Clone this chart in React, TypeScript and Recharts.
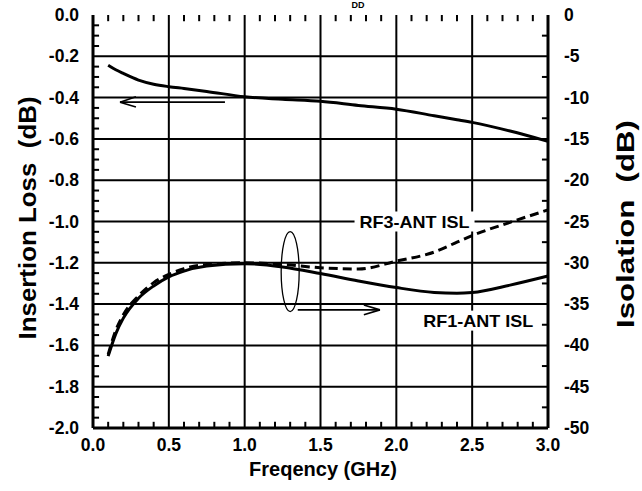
import { ComposedChart, Line, XAxis, YAxis, ReferenceLine, ReferenceDot } from "recharts";

const freq = [0.1, 0.15, 0.2, 0.3, 0.4, 0.5, 0.6, 0.75, 1.0, 1.25, 1.5, 1.75, 2.0, 2.25, 2.4, 2.5, 2.75, 3.0];
const insertionLoss = [-0.243, -0.265, -0.283, -0.315, -0.335, -0.347, -0.356, -0.37, -0.396, -0.408, -0.418, -0.438, -0.456, -0.488, -0.507, -0.52, -0.562, -0.612];
const rf1Isolation = [-41.3, -38.6, -36.7, -34.3, -32.8, -31.7, -31.0, -30.4, -30.1, -30.5, -31.3, -32.2, -33.0, -33.6, -33.7, -33.6, -32.7, -31.6];
const rf3Isolation = [-41.1, -38.2, -36.3, -34.0, -32.4, -31.4, -30.7, -30.2, -30.0, -30.2, -30.6, -30.75, -29.8, -28.7, -27.5, -26.7, -25.1, -23.6];

const freqTicks = [0, 0.5, 1.0, 1.5, 2.0, 2.5, 3.0];
const lossTicks = [0, -0.2, -0.4, -0.6, -0.8, -1.0, -1.2, -1.4, -1.6, -1.8, -2.0];
const isoTicks = [0, -5, -10, -15, -20, -25, -30, -35, -40, -45, -50];

const data = freq.map((f, i) => ({ f, il: insertionLoss[i], rf1: rf1Isolation[i], rf3: rf3Isolation[i] }));

// minor tick positions between the labelled ones
const steps = (from: number, to: number, step: number, skip: number) => {
  const out: number[] = [];
  const n = Math.round((to - from) / step);
  for (let i = 0; i <= n; i++) if (i % skip !== 0) out.push(+(from + i * step).toFixed(4));
  return out;
};
const freqMinor = steps(0, 3, 0.1, 5);
const lossMinor = steps(-2, 0, 0.05, 4);
const isoMinor = steps(-50, 0, 2.5, 2);

const FONT = "Arial, 'Liberation Sans', Helvetica, sans-serif";
const M = 6; // tickMargin used on every axis

function BottomTick(props: any) {
  const { x, y, payload } = props;
  return (
    <text x={x} y={y - M + 23} textAnchor="middle" fontFamily={FONT} fontWeight="bold" fontSize={17.5} fill="#000">
      {payload.value.toFixed(1)}
    </text>
  );
}

function LeftTick(props: any) {
  const { x, y, payload } = props;
  return (
    <text x={x + M - 14} y={y + 6} textAnchor="end" fontFamily={FONT} fontWeight="bold" fontSize={17.5} fill="#000">
      {payload.value.toFixed(1)}
    </text>
  );
}

function RightTick(props: any) {
  const { x, y, payload } = props;
  return (
    <text x={x - M + 16} y={y + 6} textAnchor="start" fontFamily={FONT} fontWeight="bold" fontSize={17.5} fill="#000">
      {payload.value}
    </text>
  );
}

const titleStyle = { fontFamily: FONT, fontWeight: "bold" as const, fill: "#000", whiteSpace: "pre" as const };

function BoxLabel(text: string) {
  return (p: any) => (
    <g>
      <rect x={p.cx - 60} y={p.cy - 10} width={120} height={20} fill="#fff" />
      <text
        x={p.cx}
        y={p.cy + 6}
        textAnchor="middle"
        fontFamily={FONT}
        fontWeight="bold"
        fontSize={17}
        fill="#000"
        textLength={110}
        lengthAdjust="spacingAndGlyphs"
      >
        {text}
      </text>
    </g>
  );
}

const seg = { stroke: "#000", strokeWidth: 1.6, xAxisId: "b", yAxisId: "il", ifOverflow: "visible" as const };
const tk = { stroke: "#000", strokeWidth: 2, xAxisId: "b", ifOverflow: "visible" as const };

export default function App() {
  return (
    <div style={{ width: 642, height: 491, background: "#fff" }}>
      <style>{"body{margin:0}"}</style>
      <ComposedChart width={642} height={491} data={data} margin={{ top: 15, right: 0, bottom: 0, left: 0 }}>
        <XAxis
          xAxisId="b"
          dataKey="f"
          type="number"
          domain={[0, 3]}
          ticks={freqTicks}
          interval={0}
          height={63}
          tickSize={0}
          tickMargin={M}
          tick={BottomTick}
          axisLine={{ stroke: "#000", strokeWidth: 3 }}
          label={() => (
            <g>
              <text x={323} y={476} textAnchor="middle" fontSize={20} style={titleStyle}>
                Freqency (GHz)
              </text>
              <text x={358} y={8} textAnchor="middle" fontSize={9} style={titleStyle}>
                DD
              </text>
            </g>
          )}
        />
        <XAxis
          xAxisId="t"
          orientation="top"
          dataKey="f"
          type="number"
          domain={[0, 3]}
          ticks={freqTicks}
          height={0}
          tickSize={0}
          tick={false}
          axisLine={{ stroke: "#000", strokeWidth: 3 }}
        />
        <YAxis
          yAxisId="il"
          orientation="left"
          type="number"
          domain={[-2, 0]}
          ticks={lossTicks}
          interval={0}
          width={93}
          tickSize={0}
          tickMargin={M}
          tick={LeftTick}
          axisLine={{ stroke: "#000", strokeWidth: 3 }}
          label={() => (
            <text
              x={28}
              y={218}
              transform="rotate(-90, 28, 218)"
              textAnchor="middle"
              dominantBaseline="central"
              fontSize={23}
              textLength={243}
              lengthAdjust="spacingAndGlyphs"
              style={titleStyle}
            >
              {"Insertion Loss  (dB)"}
            </text>
          )}
        />
        <YAxis
          yAxisId="iso"
          orientation="right"
          type="number"
          domain={[-50, 0]}
          ticks={isoTicks}
          interval={0}
          width={94}
          tickSize={0}
          tickMargin={M}
          tick={RightTick}
          axisLine={{ stroke: "#000", strokeWidth: 3 }}
          label={() => (
            <text
              x={626}
              y={224}
              transform="rotate(-90, 626, 224)"
              textAnchor="middle"
              dominantBaseline="central"
              fontSize={23}
              textLength={208}
              lengthAdjust="spacingAndGlyphs"
              style={titleStyle}
            >
              {"Isolation  (dB)"}
            </text>
          )}
        />

        {freqTicks.slice(1, -1).map((v) => (
          <ReferenceLine key={"vx" + v} x={v} xAxisId="b" yAxisId="il" stroke="#000" strokeWidth={2} />
        ))}
        {lossTicks.slice(1, -1).map((v) => (
          <ReferenceLine key={"hy" + v} y={v} xAxisId="b" yAxisId="il" stroke="#000" strokeWidth={2} />
        ))}

        {/* inward minor ticks */}
        {freqMinor.map((v) => (
          <ReferenceLine key={"bt" + v} {...tk} yAxisId="il" segment={[{ x: v, y: -2 }, { x: v, y: -1.97 }]} />
        ))}
        {freqMinor.map((v) => (
          <ReferenceLine key={"tt" + v} {...tk} yAxisId="il" segment={[{ x: v, y: 0 }, { x: v, y: -0.03 }]} />
        ))}
        {lossMinor.map((v) => (
          <ReferenceLine key={"lt" + v} {...tk} yAxisId="il" segment={[{ x: 0, y: v }, { x: 0.04, y: v }]} />
        ))}
        {isoMinor.map((v) => (
          <ReferenceLine key={"rt" + v} {...tk} yAxisId="iso" segment={[{ x: 3, y: v }, { x: 2.96, y: v }]} />
        ))}

        <Line xAxisId="b" yAxisId="il" dataKey="il" type="monotone" stroke="#000" strokeWidth={3} dot={false} isAnimationActive={false} />
        <Line xAxisId="b" yAxisId="iso" dataKey="rf1" type="monotone" stroke="#000" strokeWidth={3} dot={false} isAnimationActive={false} />
        <Line xAxisId="b" yAxisId="iso" dataKey="rf3" type="monotone" stroke="#000" strokeWidth={3} strokeDasharray="9 5" dot={false} isAnimationActive={false} />

        {/* arrow pointing to the left axis (insertion loss) */}
        <ReferenceLine {...seg} segment={[{ x: 0.87, y: -0.422 }, { x: 0.178, y: -0.422 }]} />
        <ReferenceLine {...seg} segment={[{ x: 0.178, y: -0.422 }, { x: 0.283, y: -0.396 }]} />
        <ReferenceLine {...seg} segment={[{ x: 0.178, y: -0.422 }, { x: 0.283, y: -0.446 }]} />
        {/* arrow pointing to the right axis (isolation) */}
        <ReferenceLine {...seg} segment={[{ x: 1.35, y: -1.428 }, { x: 1.892, y: -1.428 }]} />
        <ReferenceLine {...seg} segment={[{ x: 1.892, y: -1.428 }, { x: 1.786, y: -1.404 }]} />
        <ReferenceLine {...seg} segment={[{ x: 1.892, y: -1.428 }, { x: 1.786, y: -1.452 }]} />
        <ReferenceDot
          xAxisId="b"
          yAxisId="il"
          x={1.3}
          y={-1.243}
          shape={(p: any) => <ellipse cx={p.cx} cy={p.cy} rx={9} ry={40} fill="none" stroke="#000" strokeWidth={1.3} />}
        />

        <ReferenceDot xAxisId="b" yAxisId="iso" x={2.12} y={-25} shape={BoxLabel("RF3-ANT ISL")} />
        <ReferenceDot xAxisId="b" yAxisId="iso" x={2.54} y={-37} shape={BoxLabel("RF1-ANT ISL")} />
      </ComposedChart>
    </div>
  );
}
